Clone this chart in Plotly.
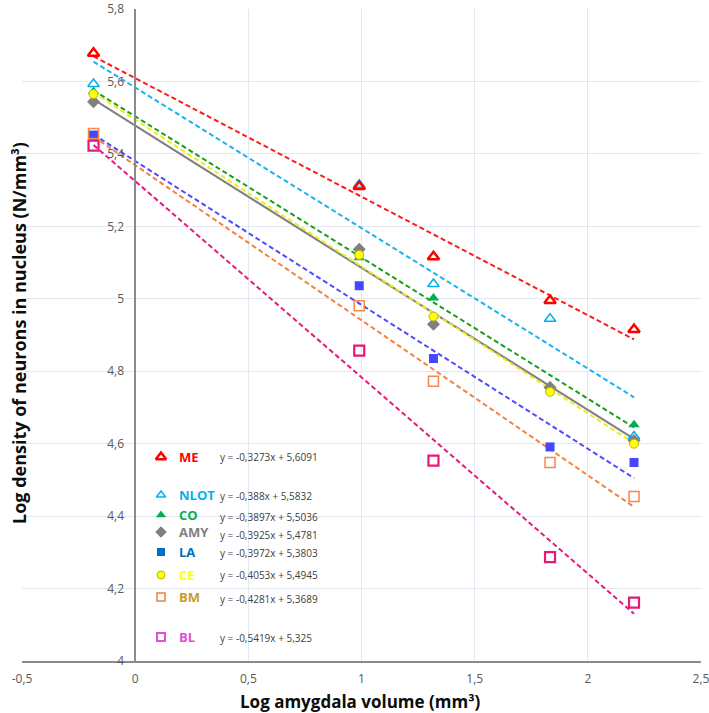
import plotly.graph_objects as go

# ---------------- data ----------------
log_volume = [-0.184, 0.99, 1.318, 1.833, 2.204]

series_names = ["ME", "NLOT", "CO", "AMY", "LA", "CE", "BM", "BL"]
ME = [5.678, 5.310, 5.116, 4.995, 4.915]
NLOT = [5.593, 5.315, 5.041, 4.945, 4.620]
CO = [5.572, 5.113, 5.002, 4.759, 4.652]
AMY = [5.544, 5.137, 4.930, 4.755, 4.609]
LA = [5.452, 5.036, 4.835, 4.591, 4.548]
CE = [5.565, 5.121, 4.951, 4.743, 4.600]
BM = [5.456, 4.981, 4.772, 4.548, 4.454]
BL = [5.423, 4.857, 4.553, 4.287, 4.161]
series_values = [ME, NLOT, CO, AMY, LA, CE, BM, BL]

slopes = [-0.3273, -0.388, -0.3897, -0.3925, -0.3972, -0.4053, -0.4281, -0.5419]
intercepts = [5.6091, 5.5832, 5.5036, 5.4781, 5.3803, 5.4945, 5.3689, 5.325]
equations = ["y = -0,3273x + 5,6091", "y = -0,388x + 5,5832", "y = -0,3897x + 5,5036",
             "y = -0,3925x + 5,4781", "y = -0,3972x + 5,3803", "y = -0,4053x + 5,4945",
             "y = -0,4281x + 5,3689", "y = -0,5419x + 5,325"]

x_ticks = [-0.5, 0, 0.5, 1, 1.5, 2, 2.5]
x_tick_labels = ["-0,5", "0", "0,5", "1", "1,5", "2", "2,5"]
y_ticks = [4, 4.2, 4.4, 4.6, 4.8, 5, 5.2, 5.4, 5.6, 5.8]
y_tick_labels = ["4", "4,2", "4,4", "4,6", "4,8", "5", "5,2", "5,4", "5,6", "5,8"]

# ---------------- styles ----------------
marker_styles = {
    "ME": dict(symbol="triangle-up-open", size=10, color="#ff0000", line=dict(width=2.5, color="#ff0000")),
    "NLOT": dict(symbol="triangle-up-open", size=10, color="#00b0f0", line=dict(width=1.5, color="#00b0f0")),
    "CO": dict(symbol="triangle-up", size=10, color="#00b050", line=dict(width=0)),
    "AMY": dict(symbol="diamond", size=10, color="#808080", line=dict(width=0)),
    "LA": dict(symbol="square", size=9, color="#4646ff", line=dict(width=0)),
    "CE": dict(symbol="circle", size=9, color="#ffff00", line=dict(width=1, color="#b8b800")),
    "BM": dict(symbol="square-open", size=10, color="#f4894a", line=dict(width=1.5, color="#f4894a")),
    "BL": dict(symbol="square-open", size=10, color="#e6197a", line=dict(width=2.2, color="#e6197a")),
}
line_styles = {
    "ME": dict(color="#ff1a1a", width=2, dash="5px,3px"),
    "NLOT": dict(color="#1ab2f0", width=2, dash="5px,3px"),
    "CO": dict(color="#1a9e1a", width=2, dash="5px,3px"),
    "AMY": dict(color="#808080", width=2),
    "LA": dict(color="#4c4cff", width=2, dash="5px,3px"),
    "CE": dict(color="#ecec1a", width=2, dash="5px,3px"),
    "BM": dict(color="#f5823c", width=2, dash="5px,3px"),
    "BL": dict(color="#e6197d", width=2, dash="5px,3px"),
}
legend_marker_styles = {
    "ME": dict(symbol="triangle-up-open", size=9, color="#ff0000", line=dict(width=2.5, color="#ff0000")),
    "NLOT": dict(symbol="triangle-up-open", size=8, color="#00b0f0", line=dict(width=1.5, color="#00b0f0")),
    "CO": dict(symbol="triangle-up", size=9, color="#00b050", line=dict(width=0)),
    "AMY": dict(symbol="diamond", size=9, color="#808080", line=dict(width=0)),
    "LA": dict(symbol="square", size=8, color="#0070c0", line=dict(width=0)),
    "CE": dict(symbol="circle", size=8, color="#ffff00", line=dict(width=1, color="#b8b800")),
    "BM": dict(symbol="square-open", size=8, color="#f07c3c", line=dict(width=1.5, color="#f07c3c")),
    "BL": dict(symbol="square-open", size=8, color="#e050d0", line=dict(width=2, color="#e050d0")),
}
label_colors = {"ME": "#ff0000", "NLOT": "#00b0f0", "CO": "#00b050", "AMY": "#808080",
                "LA": "#0070c0", "CE": "#ffff00", "BM": "#c99a28", "BL": "#e050d0"}

# layout geometry (pixels)
W, H = 709, 713
ML, MR, MT, MB = 22, 8, 9, 52
PW, PH = W - ML - MR, H - MT - MB


def px_x(p):
    return (p - ML) / PW


def px_y(p):
    return (H - MB - p) / PH


legend_rows_px = {"ME": 457, "NLOT": 495, "CO": 515, "AMY": 532, "LA": 552, "CE": 575, "BM": 597, "BL": 637}
legend_marker_x = px_x(161)
legend_label_x = px_x(177)
legend_eq_x = px_x(218)

fig = go.Figure()

xmin, xmax = min(log_volume), max(log_volume)
# trend lines
for name, m, b in zip(series_names, slopes, intercepts):
    fig.add_trace(go.Scatter(x=[xmin, xmax], y=[m * xmin + b, m * xmax + b], mode="lines",
                             line=line_styles[name], showlegend=False, hoverinfo="skip"))
# data points
draw_order = ["NLOT", "ME", "CO", "AMY", "CE", "LA", "BM", "BL"]
for name in draw_order:
    vals = series_values[series_names.index(name)]
    fig.add_trace(go.Scatter(x=log_volume, y=vals, mode="markers", name=name,
                             marker=marker_styles[name], showlegend=False))

# legend swatches on an overlay axis in plot-fraction units
for name in series_names:
    fig.add_trace(go.Scatter(x=[legend_marker_x], y=[px_y(legend_rows_px[name])], mode="markers",
                             marker=legend_marker_styles[name], xaxis="x2", yaxis="y2",
                             showlegend=False, hoverinfo="skip"))

annotations = []
eq_offsets = {"ME": 0, "NLOT": 1, "CO": 2, "AMY": 3, "LA": 1, "CE": 0, "BM": 2, "BL": 1}
for name, eq in zip(series_names, equations):
    yp = legend_rows_px[name]
    annotations.append(dict(x=legend_label_x, y=px_y(yp), xref="paper", yref="paper",
                            text="<b>%s</b>" % name, showarrow=False, xanchor="left", yanchor="middle",
                            font=dict(family="Open Sans", size=13, color=label_colors[name])))
    annotations.append(dict(x=legend_eq_x, y=px_y(yp + eq_offsets[name]), xref="paper", yref="paper",
                            text=eq, showarrow=False, xanchor="left", yanchor="middle",
                            font=dict(family="Open Sans", size=10, color="#404040")))

annotations.append(dict(x=px_x(360), y=px_y(701), xref="paper", yref="paper",
                        text="<b>Log amygdala volume (mm³)</b>", showarrow=False,
                        xanchor="center", yanchor="middle",
                        font=dict(family="Open Sans", size=17, color="#0d0d0d")))
annotations.append(dict(x=px_x(19), y=px_y(333), xref="paper", yref="paper",
                        text="<b>Log density of neurons in nucleus (N/mm³)</b>", showarrow=False,
                        textangle=-90, xanchor="center", yanchor="middle",
                        font=dict(family="Open Sans", size=18, color="#0d0d0d")))

grid_color = "#e3e7ef"
axis_color = "#8c8c8c"
tick_font = dict(family="Open Sans", size=12, color="#595959")

fig.update_layout(
    width=W, height=H,
    margin=dict(l=ML, r=MR, t=MT, b=MB, autoexpand=False),
    paper_bgcolor="white", plot_bgcolor="white",
    separators=", ",
    showlegend=False,
    annotations=annotations,
    xaxis=dict(range=[-0.5, 2.5], tickvals=x_ticks, ticktext=x_tick_labels,
               showgrid=True, gridcolor=grid_color, gridwidth=1,
               zeroline=False, showline=True, linecolor=axis_color, linewidth=1.5,
               ticks="outside", ticklen=6, tickcolor="rgba(0,0,0,0)", tickfont=tick_font,
               ticklabeloverflow="allow", domain=[0, 1], automargin=False),
    yaxis=dict(range=[4, 5.8], tickvals=y_ticks, ticktext=y_tick_labels,
               showgrid=True, gridcolor=grid_color, gridwidth=1,
               zeroline=False, showline=True, linecolor=axis_color, linewidth=1.5,
               anchor="free", position=1 / 6, side="left",
               ticks="outside", ticklen=8, tickcolor="rgba(0,0,0,0)", tickfont=tick_font,
               ticklabeloverflow="allow", domain=[0, 1], automargin=False),
    xaxis2=dict(range=[0, 1], overlaying="x", visible=False, domain=[0, 1]),
    yaxis2=dict(range=[0, 1], overlaying="y", visible=False, domain=[0, 1], anchor="x2"),
)

fig.write_html("out.html", config={"displayModeBar": False},
               post_script="document.body.style.margin='0';document.body.style.padding='0';")
